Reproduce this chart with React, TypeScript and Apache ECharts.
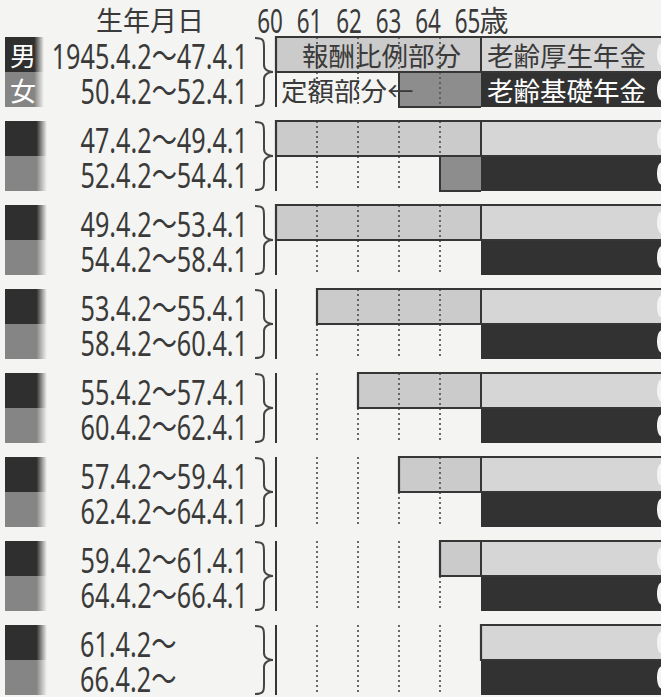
import React, { useEffect, useRef } from "react";
import * as echarts from "echarts";

// ---- data ----
const birthHeader = "生年月日";
const ageTicks = ["60", "61", "62", "63", "64", "65"];
const ageUnit = "歳";
const genderLabels = ["男", "女"];
const maleBirth = [
  "1945.4.2～47.4.1",
  "47.4.2～49.4.1",
  "49.4.2～53.4.1",
  "53.4.2～55.4.1",
  "55.4.2～57.4.1",
  "57.4.2～59.4.1",
  "59.4.2～61.4.1",
  "61.4.2～",
];
const femaleBirth = [
  "50.4.2～52.4.1",
  "52.4.2～54.4.1",
  "54.4.2～58.4.1",
  "58.4.2～60.4.1",
  "60.4.2～62.4.1",
  "62.4.2～64.4.1",
  "64.4.2～66.4.1",
  "66.4.2～",
];
// 報酬比例部分 start age per group (first group = legend)
const earningsStart = [60, 60, 60, 61, 62, 63, 64, 65];
// 定額部分 start age per group
const flatStart = [63, 64, 65, 65, 65, 65, 65, 65];
// 老齢厚生年金 / 老齢基礎年金 start age
const pensionStart = [65, 65, 65, 65, 65, 65, 65, 65];
const legendEarnings = "報酬比例部分";
const legendFlat = "定額部分←";
const legendKosei = "老齢厚生年金";
const legendKiso = "老齢基礎年金";

// ---- layout ----
const BG = "#f4f4f2";
const GRID_LEFT = 276;
const GRID_TOP = 37;
const GRID_W = 385;
const GRID_H = 660;
const PX_YEAR = 41;
const ROW_PX = 35;
const X_MIN = 60;
const X_MAX = X_MIN + GRID_W / PX_YEAR;
const Y_MAX = GRID_H / ROW_PX;
const PITCH = 2.4;
const FILLS = ["#cbcbcb", "#d6d6d6", "#8d8d8d", "#323232"];
const LINE = "#363636";
const TEXT = "#3a3a3a";
const NUM_FONT = "'Noto Sans', 'Noto Sans CJK JP', sans-serif";
const JP_FONT = "'Noto Sans CJK JP', sans-serif";

export default function App() {
  const ref = useRef<HTMLDivElement>(null);
  useEffect(() => {
    const chart = echarts.init(ref.current!, null, { renderer: "svg" });

    const barData: number[][] = [];
    earningsStart.forEach((es, g) => {
      const top = g * PITCH;
      const ps = pensionStart[g];
      if (es < ps) barData.push([es, ps, top, 0]);
      barData.push([ps, X_MAX, top, 1]);
      if (flatStart[g] < ps) barData.push([flatStart[g], ps, top + 1, 2]);
      barData.push([ps, X_MAX, top + 1, 3]);
    });
    const groupData = earningsStart.map((_, g) => [X_MIN, g * PITCH, g]);

    const renderBar = (params: any, api: any) => {
      const s = api.value(0), e = api.value(1), y = api.value(2), k = api.value(3);
      const a = api.coord([s, y]);
      const b = api.coord([e, y + 1]);
      return {
        type: "rect",
        shape: { x: a[0], y: a[1], width: b[0] - a[0], height: b[1] - a[1] },
        style: { fill: FILLS[k] },
      };
    };

    const renderFrame = (params: any, api: any) => {
      const g = api.value(2);
      const top = g * PITCH;
      const es = earningsStart[g];
      const fs = flatStart[g];
      const ps = pensionStart[g];
      const P = (x: number, y: number) => api.coord([x, y]);
      const children: any[] = [];
      // dotted year lines
      ageTicks.slice(1, 5).forEach((t) => {
        const v = Number(t);
        const a = P(v, top), b = P(v, top + 2);
        children.push({
          type: "line",
          shape: { x1: a[0], y1: a[1], x2: b[0], y2: b[1] },
          style: { stroke: "#5a5a5a", lineWidth: 1.8, lineDash: [2, 3] },
        });
      });
      // solid line at 60
      {
        const a = P(X_MIN, top), b = P(X_MIN, top + 2);
        children.push({
          type: "line",
          shape: { x1: a[0], y1: a[1], x2: b[0], y2: b[1] },
          style: { stroke: LINE, lineWidth: 2 },
        });
      }
      // outline of earnings bar
      children.push({
        type: "polyline",
        shape: { points: [P(X_MAX, top), P(es, top), P(es, top + 1), P(X_MAX, top + 1)] },
        style: { stroke: LINE, lineWidth: 2.2, fill: "none" },
      });
      {
        const a = P(ps, top), b = P(ps, top + 1);
        children.push({
          type: "line",
          shape: { x1: a[0], y1: a[1], x2: b[0], y2: b[1] },
          style: { stroke: LINE, lineWidth: 2 },
        });
      }
      if (fs < ps) {
        children.push({
          type: "polyline",
          shape: { points: [P(fs, top + 1), P(fs, top + 2), P(ps, top + 2)] },
          style: { stroke: LINE, lineWidth: 2, fill: "none" },
        });
      }
      // white caps at the right end
      [0, 1].forEach((s) => {
        const c = P(X_MAX, top + s + 0.5);
        children.push({
          type: "ellipse",
          shape: { cx: c[0] + 0.5, cy: c[1], rx: 4.5, ry: 11 },
          style: { fill: BG },
        });
      });
      // brace
      const t = P(X_MIN, top)[1] + 1;
      const bt = P(X_MIN, top + 2)[1] - 1;
      const m = (t + bt) / 2;
      const x0 = 255, x1 = 264, x2 = 273;
      const d = `M${x0},${t} C${x1},${t} ${x1},${t + 3} ${x1},${t + 10} L${x1},${m - 7} C${x1},${m - 2} ${x2 - 4},${m} ${x2},${m} C${x2 - 4},${m} ${x1},${m + 2} ${x1},${m + 7} L${x1},${bt - 10} C${x1},${bt - 3} ${x1},${bt} ${x0},${bt}`;
      children.push({
        type: "path",
        shape: { pathData: d },
        style: { fill: "none", stroke: "#454545", lineWidth: 2 },
      });
      // gender squares
      const sqW = g === 0 ? 39 : 42;
      [0, 1].forEach((s) => {
        const a = P(X_MIN, top + s), b = P(X_MIN, top + s + 1);
        const col = s === 0 ? "#2f2f2f" : "#858585";
        children.push({
          type: "rect",
          shape: { x: 5, y: a[1], width: sqW, height: b[1] - a[1] },
          style: {
            fill: new echarts.graphic.LinearGradient(0, 0, 1, 0, [
              { offset: 0, color: col },
              { offset: 0.75, color: col },
              { offset: 1, color: BG },
            ]),
          },
        });
        if (g === 0) {
          children.push({
            type: "text",
            x: 23,
            y: (a[1] + b[1]) / 2,
            style: {
              text: genderLabels[s],
              align: "center",
              verticalAlign: "middle",
              fontSize: 26,
              lineHeight: 28,
              fontFamily: JP_FONT,
              fill: "#ffffff",
            },
          });
        }
      });
      // birth date labels
      [maleBirth[g], femaleBirth[g]].forEach((label, s) => {
        const y = P(X_MIN, top + s + 0.5)[1];
        const open = label.endsWith("～");
        children.push({
          type: "text",
          x: open ? 80 : 248,
          y: y + 1,
          scaleX: 0.72,
          style: {
            text: label,
            align: open ? "left" : "right",
            verticalAlign: "middle",
            fontSize: 35,
            lineHeight: 34,
            fontFamily: NUM_FONT,
            fill: TEXT,
          },
        });
      });
      // legend texts
      if (g === 0) {
        const jp = { verticalAlign: "middle", fontSize: 26.5, lineHeight: 30, fontFamily: JP_FONT };
        const c1 = P((X_MIN + ps) / 2, top + 0.5);
        children.push({
          type: "text",
          x: c1[0] + 3,
          y: c1[1],
          style: { ...jp, text: legendEarnings, align: "center", fill: TEXT },
        });
        const c2 = P(ps, top + 0.5);
        children.push({
          type: "text",
          x: c2[0] + 6,
          y: c2[1],
          style: { ...jp, text: legendKosei, align: "left", fill: TEXT },
        });
        const c3 = P(ps, top + 1.5);
        children.push({
          type: "text",
          x: c3[0] + 6,
          y: c3[1],
          style: { ...jp, text: legendKiso, align: "left", fill: "#ffffff" },
        });
        const c4 = P(X_MIN, top + 1.5);
        children.push({
          type: "text",
          x: c4[0] + 5,
          y: c4[1],
          style: { ...jp, text: legendFlat, align: "left", fill: TEXT },
        });
      }
      return { type: "group", children };
    };

    const HEAD_Y = 19;
    const headNumX0 = 270;
    const headPitch = 39.5;
    const graphic: any[] = [
      {
        type: "text",
        x: 150,
        y: HEAD_Y,
        style: { text: birthHeader, align: "center", verticalAlign: "middle", fontSize: 27, lineHeight: 30, fontFamily: JP_FONT, fill: TEXT },
      },
      ...ageTicks.map((t, i) => ({
        type: "text",
        x: headNumX0 + i * headPitch,
        y: HEAD_Y + 1,
        scaleX: 0.68,
        style: { text: t, align: "center", verticalAlign: "middle", fontSize: 33, lineHeight: 30, fontFamily: NUM_FONT, fill: TEXT },
      })),
      {
        type: "text",
        x: headNumX0 + 5 * headPitch + 12,
        y: HEAD_Y,
        style: { text: ageUnit, align: "left", verticalAlign: "middle", fontSize: 29, lineHeight: 30, fontFamily: JP_FONT, fill: TEXT },
      },
    ];

    chart.setOption({
      animation: false,
      backgroundColor: BG,
      grid: { left: GRID_LEFT, top: GRID_TOP, width: GRID_W, height: GRID_H },
      xAxis: { type: "value", min: X_MIN, max: X_MAX, show: false },
      yAxis: { type: "value", min: 0, max: Y_MAX, inverse: true, show: false },
      graphic,
      series: [
        {
          type: "custom",
          name: "bars",
          coordinateSystem: "cartesian2d",
          renderItem: renderBar,
          data: barData,
          encode: { x: [0, 1], y: 2 },
          clip: false,
          silent: true,
          z: 1,
        },
        {
          type: "custom",
          name: "frame",
          coordinateSystem: "cartesian2d",
          renderItem: renderFrame,
          data: groupData,
          encode: { x: 0, y: 1 },
          clip: false,
          silent: true,
          z: 2,
        },
      ],
    });
    return () => chart.dispose();
  }, []);
  return (
    <div
      ref={ref}
      style={{ position: "fixed", left: 0, top: 0, width: 661, height: 697 }}
    />
  );
}
